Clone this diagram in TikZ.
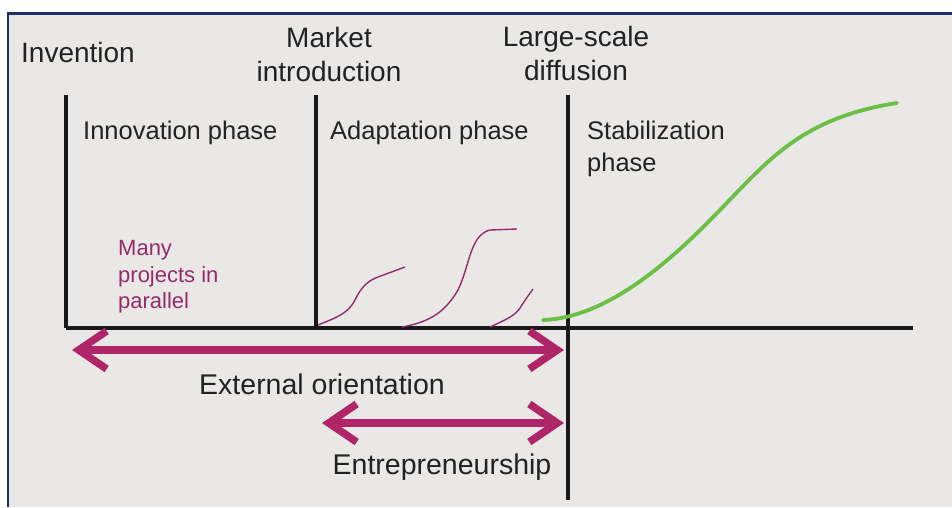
\documentclass[tikz,border=0pt]{standalone}
\usepackage{fontspec}
\setmainfont{Liberation Sans}
\usetikzlibrary{arrows.meta}
\definecolor{bg}{HTML}{E9E8E6}
\definecolor{frameblue}{HTML}{1C2F6C}
\definecolor{txt}{HTML}{222222}
\definecolor{mag}{HTML}{B02468}
\definecolor{thinmag}{HTML}{952C69}
\definecolor{grn}{HTML}{6CBF45}
\tikzset{
  axisline/.style={line width=3.2pt, draw=black!90},
  milestone/.style={text=txt, align=center, font=\fontsize{28}{34}\selectfont, inner sep=0pt},
  phaselabel/.style={text=txt, align=left, font=\fontsize{25.5}{32}\selectfont, inner sep=0pt, anchor=west},
  orient/.style={text=txt, font=\fontsize{28.5}{34}\selectfont, inner sep=0pt},
  bigarrow/.style={line width=7.5pt, draw=mag, {Straight Barb[length=28pt,width=38pt,line width=7.5pt]}-{Straight Barb[length=28pt,width=38pt,line width=7.5pt]}, line cap=round},
  project/.style={line width=1.4pt, draw=thinmag},
  scurve/.style={line width=3.8pt, draw=grn, line cap=round}
}
\begin{document}
\begin{tikzpicture}[x=1pt,y=-1pt]
\useasboundingbox (0,0) rectangle (952,507);
\fill[white] (0,0) rectangle (952,507);
\fill[bg] (8,13) rectangle (952,507);
\draw[frameblue, line width=2.5pt] (8,507) -- (8,13.5) -- (952,13.5);

% milestone labels
\node[milestone] (inv) at (78,52) {Invention};
\node[milestone] (mkt) at (329,54) {Market\\introduction};
\node[milestone] (lsd) at (576,53) {Large-scale\\diffusion};

% axis and milestone lines
\coordinate (o) at (66,328);
\coordinate (xend) at (913,328);
\coordinate (t1) at (66,95);
\coordinate (t2) at (316,95);
\coordinate (b2) at (316,328);
\coordinate (t3) at (568,95);
\coordinate (b3) at (568,500);
\draw[axisline] (t1) -- (o);
\draw[axisline] (t2) -- (b2);
\draw[axisline] (t3) -- (b3);
\draw[axisline] (o) -- (xend);

% phase labels
\node[phaselabel] (innov) at (83,133) {Innovation phase};
\node[phaselabel] (adapt) at (330,133) {Adaptation phase};
\node[phaselabel] (stab) at (587,149) {Stabilization\\phase};

% many projects
\node[anchor=west, align=left, text=thinmag, font=\fontsize{22}{26.5}\selectfont, inner sep=0pt] (many) at (118,277) {Many\\projects in\\parallel};

\draw[project] (318,325) .. controls (335,318) and (348,314) .. (355,300)
  .. controls (362,285) and (370,280) .. (378,277) -- (405,267);
\draw[project] (402,327) .. controls (430,322) and (445,312) .. (458,290)
  .. controls (470,265) and (470,235) .. (490,230) -- (517,229);
\draw[project] (490,327) .. controls (505,320) and (515,316) .. (520,308)
  .. controls (525,300) and (528,296) .. (533,289);

% green S-curve
\draw[scurve] (543,320) .. controls (603,318) and (664,268) .. (717,213)
  .. controls (767,162) and (800,118) .. (897,103);

% orientation arrows
\coordinate (ea) at (72,350);
\coordinate (eb) at (564,350);
\coordinate (na) at (322,423);
\coordinate (nb) at (564,423);
\draw[bigarrow] (ea) -- (eb);
\draw[bigarrow] (na) -- (nb);
\node[orient] (ext) at (322,384) {External orientation};
\node[orient] (ent) at (442,467) {Entrepreneurship};
\end{tikzpicture}
\end{document}
